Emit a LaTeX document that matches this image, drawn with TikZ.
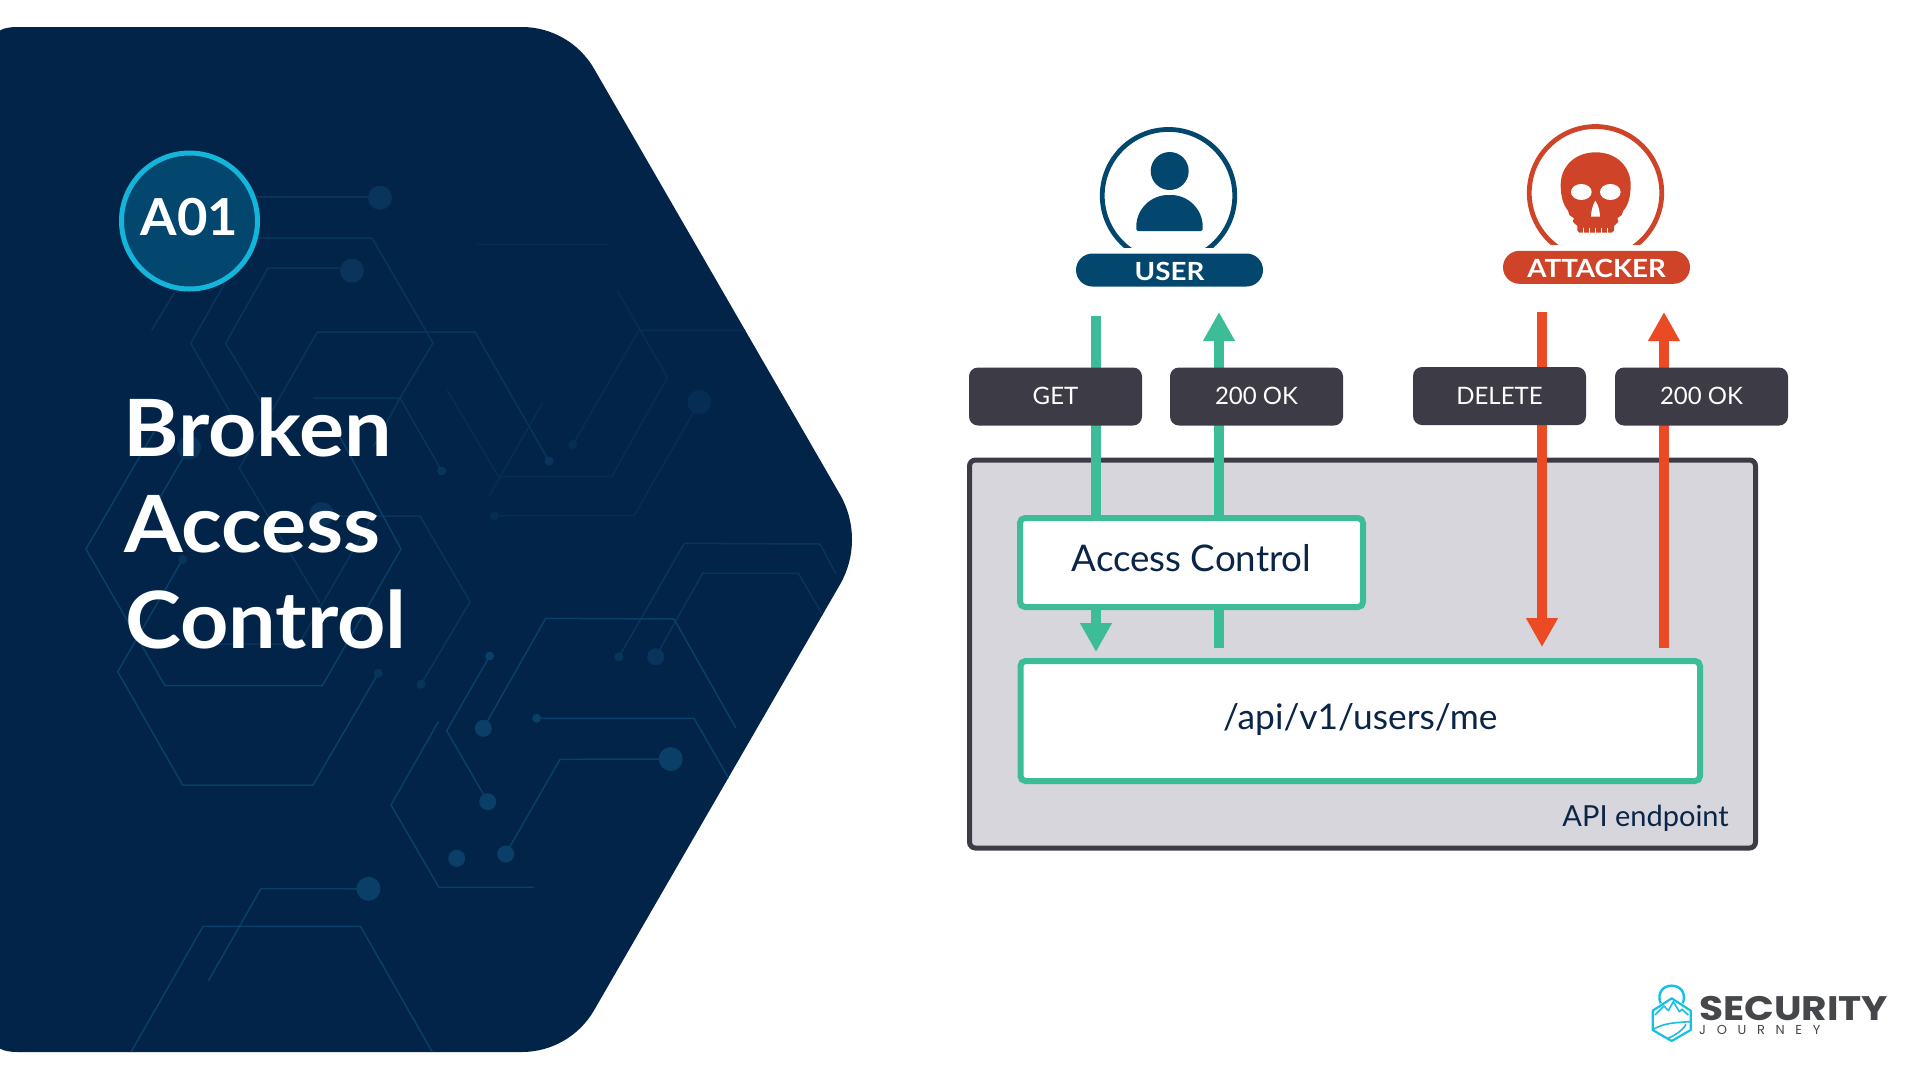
\documentclass[tikz,border=0pt]{standalone}
\usepackage{fontspec}
\setmainfont{Lato}
\newfontfamily\titlefont[FakeStretch=1.068]{Lato}
\newfontfamily\pillfont[FakeStretch=1.11]{Lato}
\newfontfamily\badgefont[FakeStretch=1.03]{Lato}
\newfontfamily\logofont[FakeStretch=1.15]{Poppins}
\newfontfamily\logosmall{Poppins}
\usetikzlibrary{arrows.meta}
\definecolor{navy}{HTML}{012448}
\definecolor{cirA}{HTML}{0A3F68}
\definecolor{cirB}{HTML}{09355C}
\definecolor{cirC}{HTML}{062E54}
\definecolor{badgeFill}{HTML}{03476F}
\definecolor{badgeLine}{HTML}{14B5DB}
\definecolor{mint}{HTML}{3CBD98}
\definecolor{flame}{HTML}{EA4B25}
\definecolor{crimson}{HTML}{CF4429}
\definecolor{slateBox}{HTML}{3D3C46}
\definecolor{panelGrey}{HTML}{D7D6DC}
\definecolor{inkNavy}{HTML}{0A2548}
\definecolor{logoCyan}{HTML}{17BFE3}
\definecolor{logoGrey}{HTML}{45474B}
\newcommand{\hexpath}{(0,30.5) .. controls (4,28) and (10,27) .. (18,27) -- (522,27) .. controls (551.6,27) and (579.2,43) .. (594,68.6) -- (840,494.5) .. controls (856,522.2) and (856,556.8) .. (840,584.5) -- (594,1010.4) .. controls (579.2,1036) and (551.6,1052) .. (522,1052) -- (18,1052) .. controls (10,1052) and (4,1051) .. (0,1048.5) -- cycle}
\tikzset{
  cirline/.style={line width=1.5pt,line join=miter},
  titletext/.style={anchor=base west,text=white,font=\titlefont\fontsize{79}{79}\selectfont\bfseries,inner sep=0pt},
  verbbox/.style={fill=slateBox,rounded corners=9pt,text=white,font=\fontsize{24}{24}\selectfont,minimum width=173pt,minimum height=58pt,inner sep=0pt,text height=24pt,text depth=8pt,outer sep=0pt},
  greenbox/.style={draw=mint,line width=6pt,fill=white,rounded corners=5pt,text=inkNavy,inner sep=0pt,outer sep=0pt,text height=32pt,text depth=15pt},
  pill/.style={rounded corners=16.5pt,text=white,font=\pillfont\fontsize{25}{25}\selectfont\bfseries,minimum height=33pt,inner sep=0pt,text height=26pt,text depth=6pt,outer sep=0pt},
  ring/.style={circle,line width=4.8pt,fill=white,minimum size=132.5pt,inner sep=0pt,outer sep=0pt},
  flowgreen/.style={draw=mint,line width=10pt},
  flowred/.style={draw=flame,line width=10pt},
  headgreen/.style={-{Triangle[width=30pt,length=29pt]},draw=mint,fill=mint,line width=10pt},
  headred/.style={-{Triangle[width=30pt,length=29pt]},draw=flame,fill=flame,line width=10pt},
}
\begin{document}
\begin{tikzpicture}[x=1pt,y=-1pt]
\useasboundingbox (0,0) rectangle (1920,1080);
\fill[white] (0,0) rectangle (1920,1080);
\fill[navy] \hexpath;
% circuit pattern
\begin{scope}
\clip \hexpath;
\begin{scope}[cirline,draw=cirB]
\draw (257,197) -- (380,197);
\draw (257,238) -- (372,238) -- (433,343) -- (400,398) -- (373,447);
\draw (340,268) -- (268,268) -- (225.7,343.3) -- (270,417);
\draw (313,398) -- (400,398) -- (441.7,471);
\draw (175,291.7) -- (151.7,330);
\draw (225,283) -- (190.7,343.3) -- (233,417);
\draw (549,461) -- (475,332) -- (317.3,332) -- (239.3,468) -- (320,603);
\draw (321.7,516) -- (420,516) -- (470,601.7) -- (421,684.3);
\draw (186.7,644) -- (299,644) -- (371.7,518.3);
\draw (619,656.7) -- (684.3,543.3) -- (820,544) -- (836,574);
\draw (655.7,656.7) -- (702.7,573.3) -- (798.3,573.3) -- (825,619);
\end{scope}
\begin{scope}[cirline,draw=cirC]
\draw (476.7,244.3) -- (608,244.3);
\draw (447.3,390) -- (498.3,476.7) -- (611.7,476.7) -- (667.3,377.3) -- (617.7,291);
\draw (542.7,402.7) -- (489.3,495.7);
\draw (572.7,444.7) -- (639,330) -- (760,330);
\draw (494.3,515.7) -- (634,515.7) -- (699.3,402);
\end{scope}
\begin{scope}[cirline,draw=cirA]
\draw (340,437) -- (401,549) -- (322.3,685.7) -- (165,685.7) -- (86,549) -- (165,413);
\draw (189,447.7) -- (155,506);
\draw (182.7,559.3) -- (117.7,671.7) -- (182.7,785) -- (313,785) -- (378.3,673.3);
\draw (483.3,728.3) -- (545.7,618.3) -- (674,619) -- (736,728.3);
\draw (489.7,656) -- (446.7,730.7) -- (487.7,801.7);
\draw (536.7,718.3) -- (694,718.3) -- (732,784);
\draw (670.7,759) -- (560,759.3) -- (505.7,854);
\draw (438.3,721.7) -- (391,805) -- (439,887.3) -- (534,887.3);
\draw (368.5,888.8) -- (261,888.5) -- (208.4,980.8);
\draw (131,1052) -- (203,926.4) -- (360.5,926.4) -- (432.3,1052);
\end{scope}
\fill[cirB] (380,197.7) circle[radius=12pt] (352,270.7) circle[radius=12pt] (189,447.7) circle[radius=12pt] (321.7,514) circle[radius=12pt] (549,461) circle[radius=4.5pt] (441.7,471) circle[radius=4.5pt] (182.7,559.3) circle[radius=4.5pt] (421,684.3) circle[radius=4.5pt] (378.3,673.3) circle[radius=4.5pt] (619,656.7) circle[radius=4.5pt] (655.7,656.7) circle[radius=8.5pt];
\fill[cirC] (699.3,402) circle[radius=12pt] (572.7,444.7) circle[radius=4.5pt] (494.3,515.7) circle[radius=4.5pt];
\fill[cirA] (483.3,728.3) circle[radius=8.5pt] (489.7,656) circle[radius=4.5pt] (487.7,801.7) circle[radius=8.5pt] (536.7,718.3) circle[radius=4.5pt] (670.7,759) circle[radius=12pt] (505.7,854) circle[radius=8.5pt] (456.7,858.3) circle[radius=8.5pt] (368.5,888.8) circle[radius=12pt];
\end{scope}
% badge and title
\node[circle,draw=badgeLine,fill=badgeFill,line width=5pt,minimum size=136pt,inner sep=0pt,text=white,font=\badgefont\fontsize{51}{51}\selectfont\bfseries,text height=40pt,text depth=12pt] (badge) at (189.5,221) {A01};
\node[titletext] (titleA) at (123,456) {Broken};
\node[titletext] (titleB) at (124,552) {Access};
\node[titletext] (titleC) at (125,648) {Control};
% panel
\node[draw=slateBox,fill=panelGrey,line width=5pt,rounded corners=6pt,minimum width=786pt,minimum height=388pt,inner sep=0pt] (panel) at (1362.5,654) {};
\node[anchor=base east,text=inkNavy,font=\fontsize{29}{29}\selectfont,inner sep=0pt] (panelLabel) at (1729,826) {API endpoint};
\node[greenbox,font=\fontsize{36.7}{36.7}\selectfont,minimum width=343pt,minimum height=89pt] (ac) at (1191.5,562.5) {Access Control};
\node[greenbox,font=\fontsize{35.3}{35.3}\selectfont,minimum width=679.5pt,minimum height=120pt,text height=30pt,text depth=13pt] (api) at (1360.25,721) {/api/v1/users/me};
% flow arrows
\coordinate (getTop) at (1096,316);
\coordinate (getTip) at (1096,652);
\coordinate (okTip) at (1219,312);
\coordinate (okFoot) at (1219,648);
\coordinate (delTop) at (1542,312);
\coordinate (delTip) at (1542,647);
\coordinate (ok2Tip) at (1664,312);
\coordinate (ok2Foot) at (1664,648);
\draw[flowgreen] (getTop) -- (ac.north -| getTop);
\draw[headgreen] (ac.south -| getTop) -- (getTip);
\draw[flowgreen] (okFoot) -- (ac.south -| okFoot);
\draw[headgreen] (ac.north -| okFoot) -- (okTip);
\draw[headred] (delTop) -- (delTip);
\draw[headred] (ok2Foot) -- (ok2Tip);
% verb labels
\node[verbbox] (lblGet) at (1055.5,396.5) {GET};
\node[verbbox] (lblOk) at (1256.5,396.5) {200 OK};
\node[verbbox] (lblDel) at (1499.5,396) {DELETE};
\node[verbbox] (lblOkB) at (1701.5,396.5) {200 OK};
% user
\node[ring,draw=badgeFill] (userRing) at (1168.5,195.7) {};
\fill[white] (1095,248) rectangle (1242,254);
\fill[badgeFill] (1169.7,171) circle[radius=19pt];
\fill[badgeFill,rounded corners=1.5pt] (1136.3,231) -- (1136.3,228) -- (1136.3,228) .. controls (1136.3,209) and (1151,195) .. (1169.5,195) .. controls (1188,195) and (1202.7,209) .. (1202.7,228) -- (1202.7,231) -- cycle;
\node[pill,fill=badgeFill,minimum width=187pt] (userPill) at (1169.5,270) {USER};
% attacker
\node[ring,draw=crimson] (attRing) at (1595.5,192.8) {};
\fill[white] (1522,245) rectangle (1669,251);
\begin{scope}[shift={(1520,110)},x=0.3333pt,y=-0.3333pt]
\fill[crimson] (227,127) .. controls (290,127) and (332,170) .. (332,225) .. controls (332,260) and (325,285) .. (310,302) -- (305,315) -- (292,325) -- (295,335) -- (282,348) -- (282,362) -- (275,368) -- (178,368) -- (172,362) -- (172,348) -- (158,335) -- (162,325) -- (148,315) -- (144,302) .. controls (130,285) and (122,260) .. (122,225) .. controls (122,170) and (164,127) .. (227,127) -- cycle;
\fill[white] (184,246) circle[x radius=31,y radius=24] (271,246) circle[x radius=31,y radius=24];
\fill[white] (226,272) .. controls (218,285) and (213,305) .. (213,320) -- (240,320) .. controls (240,305) and (235,285) .. (226,272) -- cycle;
\draw[white,line width=1.3pt] (190,353) -- (190,369) (208,353) -- (208,369) (226,353) -- (226,369) (244,353) -- (244,369) (262,353) -- (262,369);
\end{scope}
\node[pill,fill=crimson,minimum width=187pt] (attPill) at (1596.5,267.3) {ATTACKER};
% logo
\begin{scope}[shift={(1640,970)},x=0.3333pt,y=-0.3333pt]
\draw[logoCyan,line width=2.2pt,line join=round] (95,85) -- (38,122) -- (38,180) -- (95,213) -- (152,180) -- (152,122) -- cycle;
\draw[logoCyan,line width=2.4pt] (62,100) .. controls (50,70) and (68,47) .. (95,47) .. controls (122,47) and (140,70) .. (128,100);
\draw[logoCyan,line width=1.6pt,line join=round] (45,135) -- (72,108) -- (85,122) -- (100,95) -- (118,125) -- (126,118) -- (145,135);
\draw[logoCyan,line width=1.6pt] (40,178) .. controls (70,160) and (100,158) .. (150,155);
\draw[logoCyan,line width=1.6pt] (82,206) .. controls (105,195) and (125,185) .. (138,163);
\end{scope}
\node[anchor=base west,inner sep=0pt,text=logoGrey,text height=24pt,text depth=0pt,font=\logofont\fontsize{34}{34}\selectfont\bfseries] (logoTop) at (1699,1020.7) {SECURITY};
\node[anchor=base west,inner sep=0pt,text=logoGrey,text height=9pt,text depth=0pt,font={\logosmall\fontsize{13}{13}\selectfont\addfontfeatures{LetterSpace=82}}] (logoBottom) at (1699,1034) {JOURNEY};
\end{tikzpicture}
\end{document}
